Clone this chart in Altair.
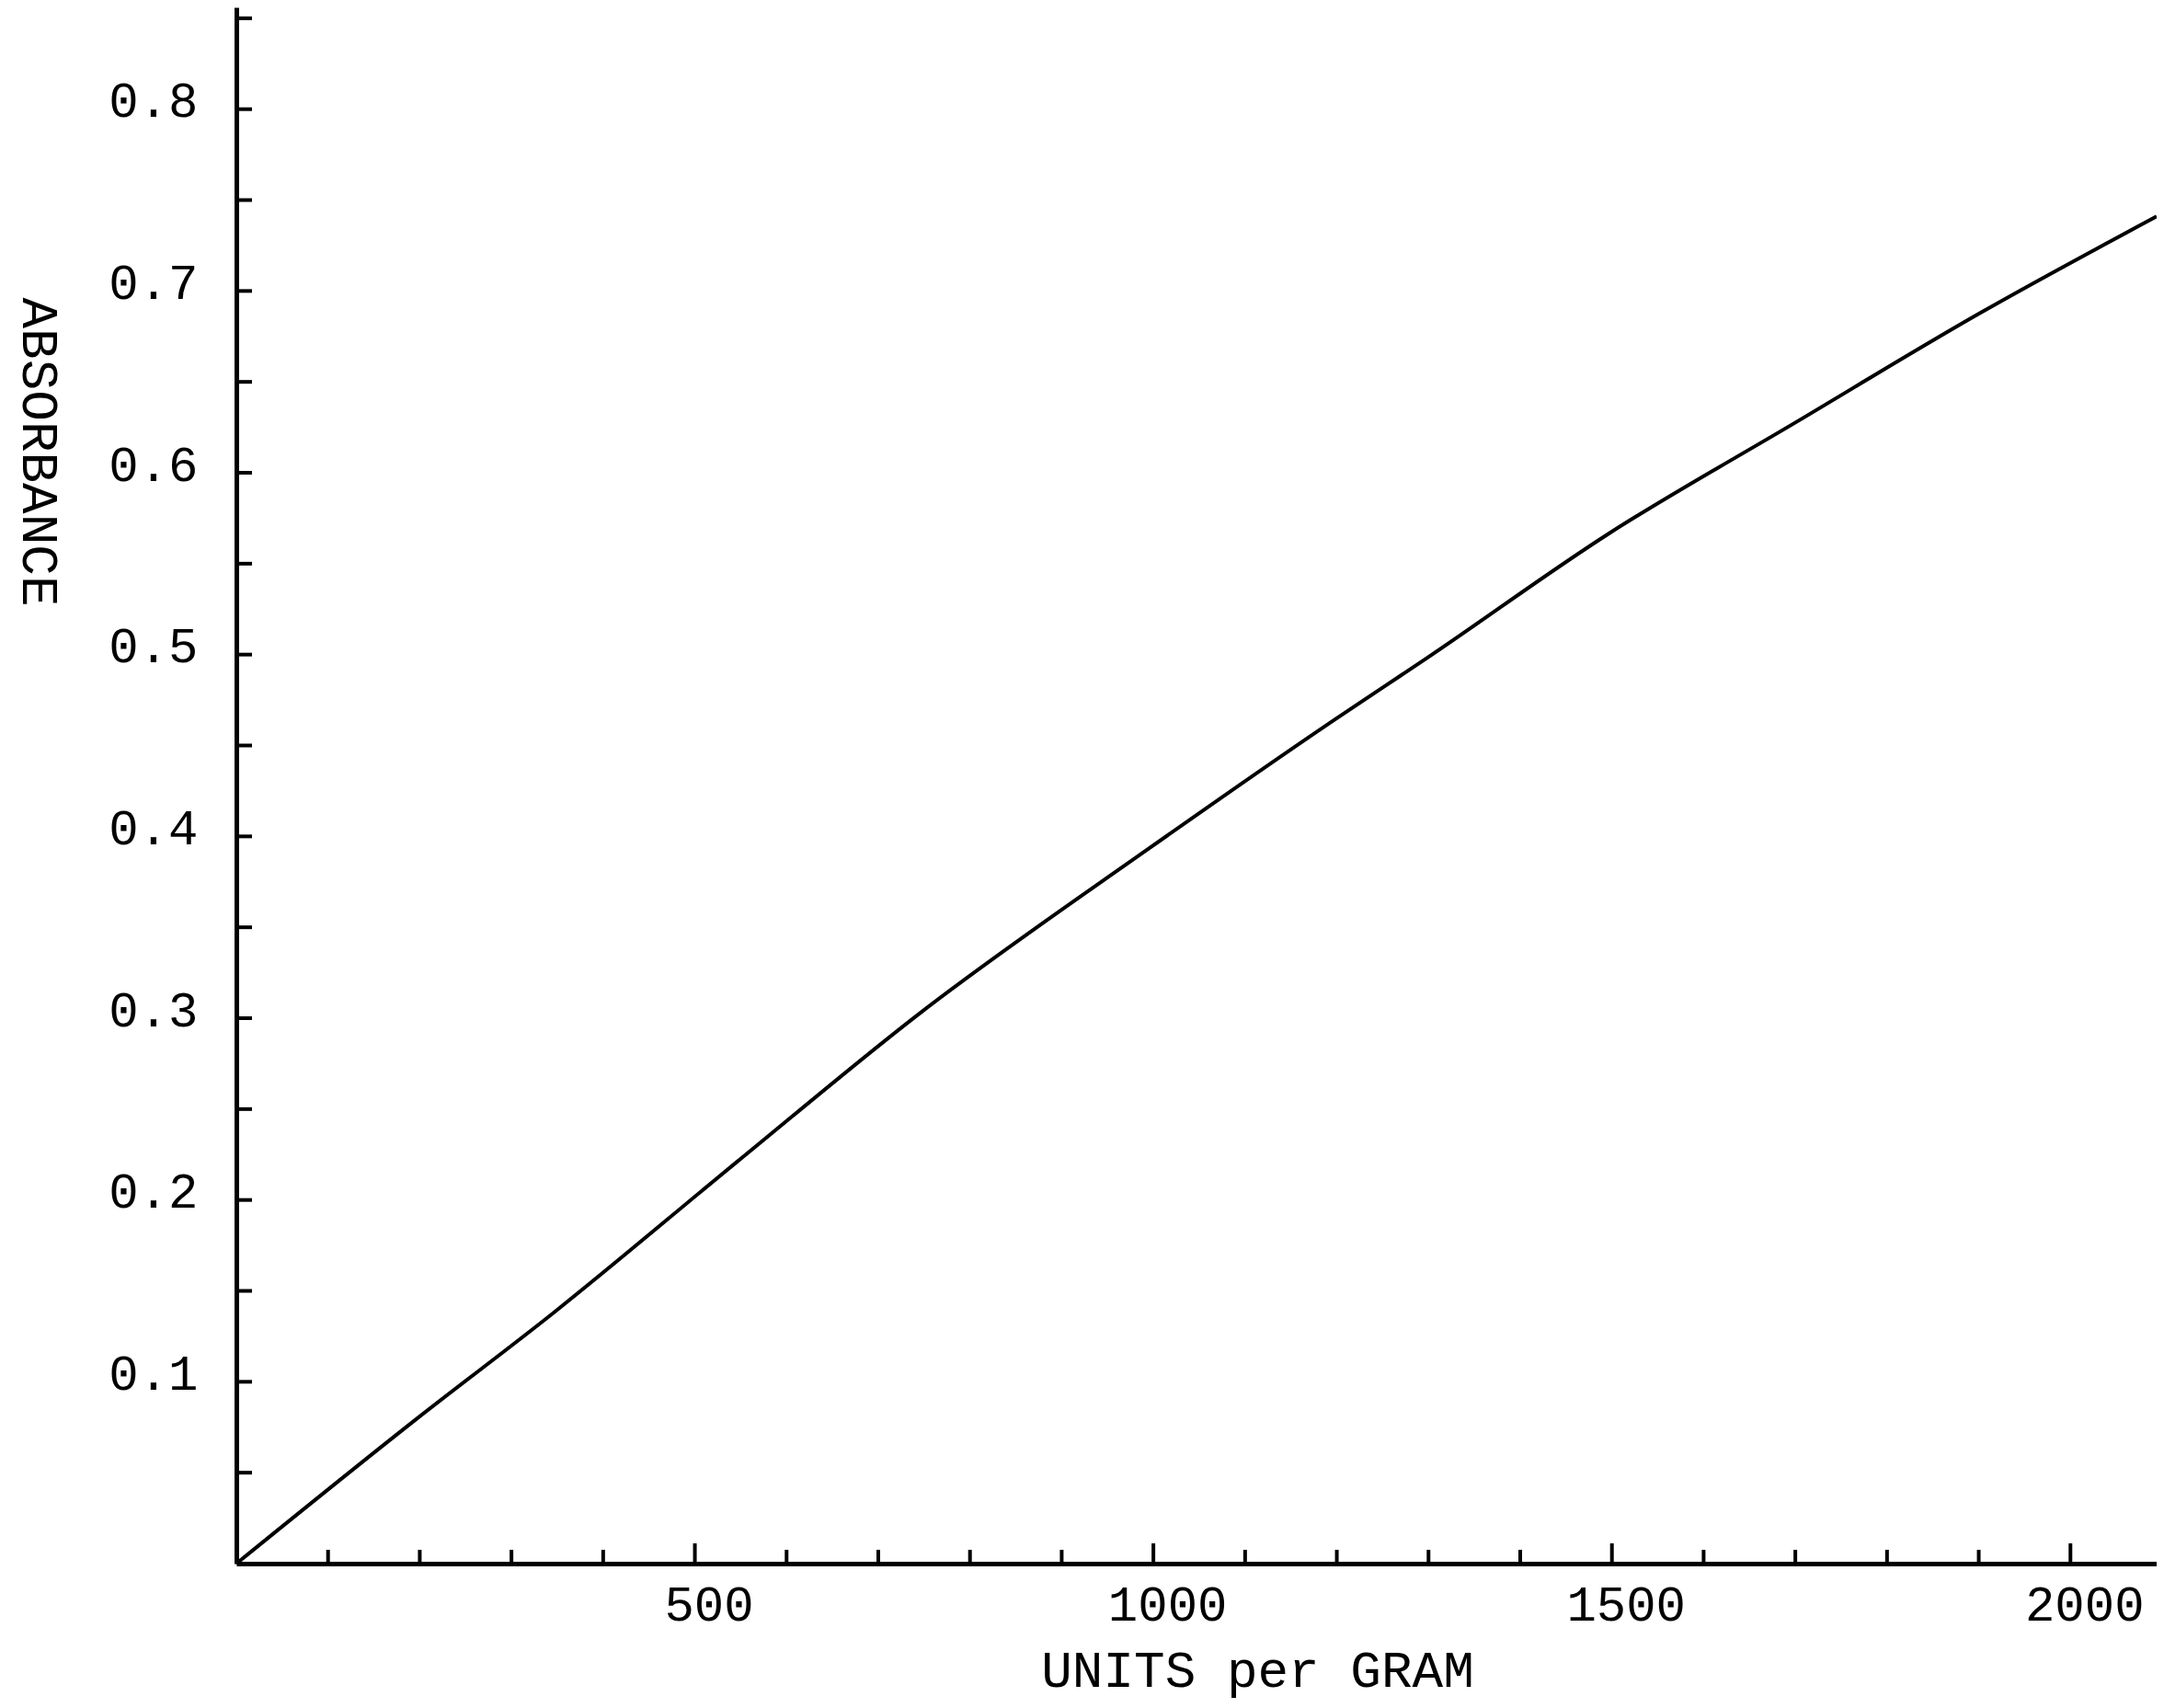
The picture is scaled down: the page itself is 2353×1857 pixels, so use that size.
import altair as alt
import pandas as pd

# Data
units = [0, 195, 346, 546, 746, 997, 1197, 1298, 1498, 1698, 1902, 2094]
absorbance = [0.0, 0.079, 0.138, 0.221, 0.303, 0.394, 0.464, 0.498, 0.567, 0.627, 0.688, 0.741]

x_label_values = [500, 1000, 1500, 2000]
y_label_values = [0.1, 0.2, 0.3, 0.4, 0.5, 0.6, 0.7, 0.8]
x_minor_ticks = [100, 200, 300, 400, 600, 700, 800, 900, 1100, 1200, 1300, 1400,
                 1600, 1700, 1800, 1900]
x_major_ticks = [500, 1000, 1500, 2000]
y_ticks = [0.05, 0.1, 0.15, 0.2, 0.25, 0.3, 0.35, 0.4, 0.45, 0.5, 0.55, 0.6,
           0.65, 0.7, 0.75, 0.8, 0.85]

W, H = 2088, 1692
FONT = "Liberation Mono"

xs = alt.Scale(domain=[0, 2094], nice=False, zero=True)
ys = alt.Scale(domain=[0, 0.856], nice=False, zero=True)

x_axis = alt.Axis(
    title="UNITS per GRAM", values=x_label_values, format="d", ticks=False, tickSize=0,
    grid=False, domainColor="black", domainWidth=5,
    labelFont=FONT, labelFontSize=54, labelColor="black", labelPadding=18,
    labelOffset=15, labelFlush=False, labelOverlap=False,
    titleFont=FONT, titleFontSize=56, titleFontWeight="normal", titleColor="black",
    titleX=1110, titleY=133, titleAlign="center", titleBaseline="alphabetic")
y_axis = alt.Axis(
    title="ABSORBANCE", values=y_label_values, format=".1f", ticks=False, tickSize=0,
    grid=False, domainColor="black", domainWidth=5,
    labelFont=FONT, labelFontSize=54, labelColor="black", labelPadding=42,
    labelOffset=-8, labelFlush=False, labelOverlap=False,
    titleFont=FONT, titleFontSize=56, titleFontWeight="normal", titleColor="black",
    titleAngle=90, titleX=-216, titleY=483, titleAlign="center", titleBaseline="middle")

df = pd.DataFrame({"u": units, "a": absorbance})

line = alt.Chart(df).mark_line(color="black", strokeWidth=4, interpolate="monotone").encode(
    x=alt.X("u:Q", scale=xs, axis=x_axis),
    y=alt.Y("a:Q", scale=ys, axis=y_axis),
)

yt = alt.Chart(pd.DataFrame({"a": y_ticks})).mark_rule(color="black", strokeWidth=4).encode(
    y=alt.Y("a:Q", scale=ys, axis=y_axis), x=alt.value(0), x2=alt.value(17))

xt_minor = alt.Chart(pd.DataFrame({"u": x_minor_ticks})).mark_rule(color="black", strokeWidth=4).encode(
    x=alt.X("u:Q", scale=xs, axis=x_axis), y=alt.value(H), y2=alt.value(H - 15))

xt_major = alt.Chart(pd.DataFrame({"u": x_major_ticks})).mark_rule(color="black", strokeWidth=4).encode(
    x=alt.X("u:Q", scale=xs, axis=x_axis), y=alt.value(H), y2=alt.value(H - 22))

chart = alt.layer(line, yt, xt_minor, xt_major).properties(
    width=W, height=H,
    autosize=alt.AutoSizeParams(type="none"),
    padding={"left": 249, "top": 0, "right": 0, "bottom": 149},
    background="white",
).configure_view(stroke=None)

chart.save("out.html", embed_options={"renderer": "svg", "actions": False})
